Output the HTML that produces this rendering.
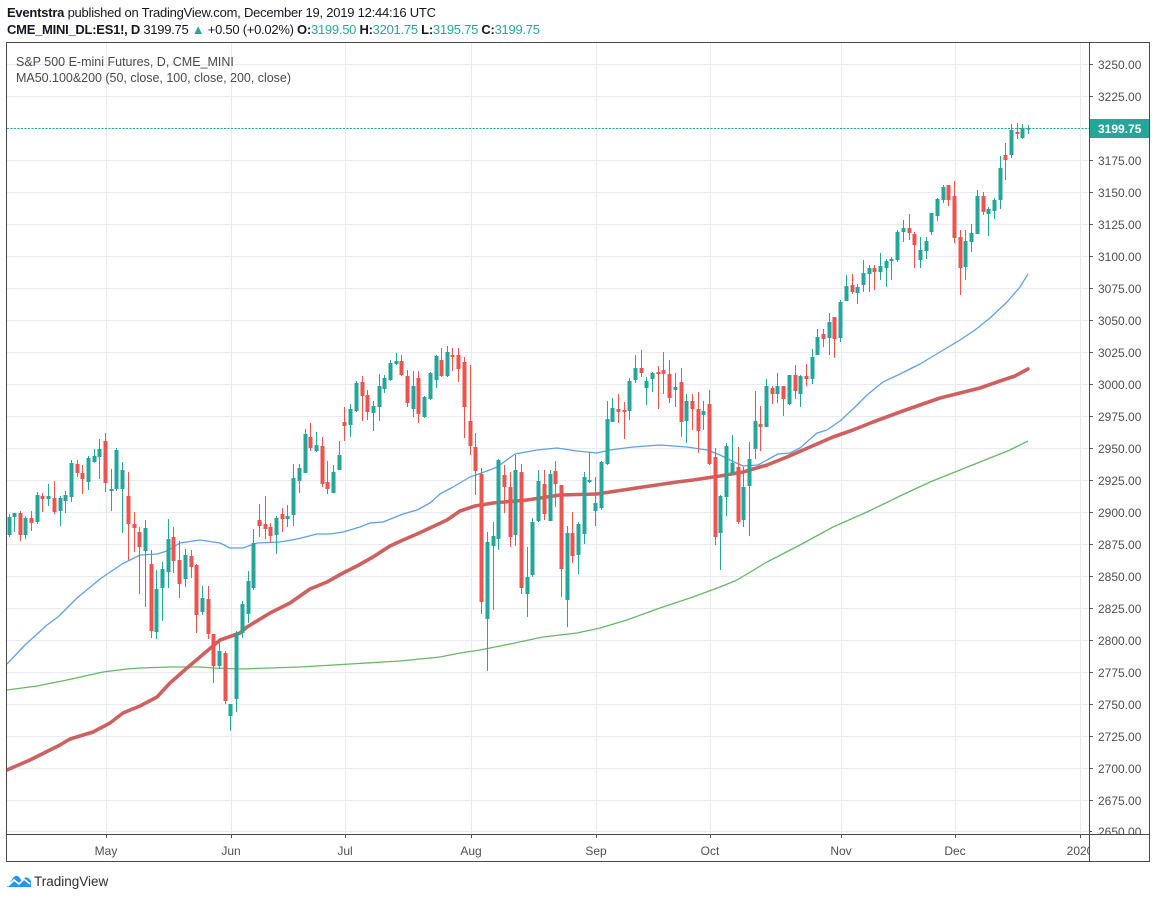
<!DOCTYPE html>
<html><head><meta charset="utf-8"><style>
html,body{margin:0;padding:0;background:#fff;}
svg{display:block;}
text{font-family:"Liberation Sans",Arial,sans-serif;}
</style></head><body>
<svg width="1156" height="899" viewBox="0 0 1156 899" xmlns="http://www.w3.org/2000/svg">
<defs>
<clipPath id="plot"><rect x="7" y="42" width="1082" height="792"/></clipPath>
<clipPath id="taxis"><rect x="7" y="835" width="1082" height="27"/></clipPath>
</defs>
<rect width="1156" height="899" fill="#fff"/>
<!-- header -->
<text x="7" y="17" font-size="13" fill="#131722" textLength="429" lengthAdjust="spacing"><tspan font-weight="bold">Eventstra</tspan> published on TradingView.com, December 19, 2019 12:44:16 UTC</text>
<text x="7" y="34" font-size="13" fill="#131722" textLength="533" lengthAdjust="spacing"><tspan font-weight="bold">CME_MINI_DL:ES1!, D</tspan> 3199.75 <tspan fill="#26a69a">▲</tspan> +0.50 (+0.02%) <tspan font-weight="bold">O:</tspan><tspan fill="#26a69a">3199.50</tspan> <tspan font-weight="bold">H:</tspan><tspan fill="#26a69a">3201.75</tspan> <tspan font-weight="bold">L:</tspan><tspan fill="#26a69a">3195.75</tspan> <tspan font-weight="bold">C:</tspan><tspan fill="#26a69a">3199.75</tspan></text>

<!-- grid -->
<g stroke="#e6ecf1" stroke-width="1">
<path d="M7 64.5H1089M7 96.5H1089M7 128.5H1089M7 160.5H1089M7 192.5H1089M7 224.5H1089M7 256.5H1089M7 288.5H1089M7 320.5H1089M7 352.5H1089M7 384.5H1089M7 416.5H1089M7 448.5H1089M7 480.5H1089M7 512.5H1089M7 544.5H1089M7 576.5H1089M7 608.5H1089M7 640.5H1089M7 672.5H1089M7 704.5H1089M7 736.5H1089M7 768.5H1089M7 800.5H1089M7 831.5H1089"/>
<path d="M106.5 42V834M231.5 42V834M345.5 42V834M471.5 42V834M596.5 42V834M710.5 42V834M841.5 42V834M955.5 42V834M1080.5 42V834"/>
</g>

<g clip-path="url(#plot)">
<!-- moving averages -->
<polyline fill="none" stroke="#5fa0e4" stroke-width="1.3" stroke-linejoin="round" points="7,664 25,645 47,625 58,617 77,598 100,579 122,564 140,555 157,554 167,551 180,543 200,540 220,543 230,548 243,548 257,543 280,542 297,539 317,534 330,534 343,532 360,527 370,523 383,522 403,514 417,510 430,503 440,494 453,487 470,477 487,471 497,467 515,454 537,450 557,448 577,451 597,453 610,450 633,447 660,445 687,447 707,450 720,455 730,460 743,466 758,465 778,454 790,453 800,448 817,433 827,430 840,421 853,409 867,395 883,382 900,374 920,364 940,352 960,340 975,330 990,318 1007,302 1020,287 1028,274"/>
<polyline fill="none" stroke="#66b866" stroke-width="1.3" stroke-linejoin="round" points="7,690 37,686 67,680 103,672 127,669 140,668 170,667 200,667 213,668 240,669 300,667 350,664 400,661 440,657 460,653 480,650 510,644 543,637 577,633 600,628 627,620 660,608 693,597 720,587 737,580 767,562 800,545 833,527 867,512 900,496 930,482 960,470 990,458 1010,450 1028,441"/>
<polyline fill="none" stroke="#d0605e" stroke-width="3.6" stroke-linejoin="round" stroke-linecap="round" points="7,770 30,760 60,745 70,739 93,732 110,723 123,713 140,706 157,697 170,683 187,668 200,657 220,640 240,633 247,627 270,613 290,603 310,589 327,582 343,573 357,566 373,557 390,546 403,540 417,534 430,528 447,520 460,511 475,506 493,503 527,500 560,495 597,494 610,492 643,487 677,482 693,480 720,476 743,472 767,465 787,457 810,447 833,437 853,430 873,422 900,412 920,405 940,398 960,393 980,388 1000,381 1015,376 1028,369"/>

<!-- current price line -->
<line x1="7" y1="128.5" x2="1089" y2="128.5" stroke="#26a69a" stroke-width="1" stroke-dasharray="2 1.5"/>

<!-- green wicks -->
<path fill="none" stroke="#26a69a" stroke-width="1" d="M9.5 514V537M14.5 513V532M25.5 516V539M37.5 492V524M48.5 484V506M60.5 496V526M65.5 491V513M71.5 460V502M88.5 456V490M94.5 449V463M99.5 439V479M111.5 469V511M116.5 448V491M122.5 462V533M145.5 520V607M156.5 570V639M162.5 562V621M168.5 519V588M185.5 549V587M202.5 586V615M219.5 640V669M230.5 704V731M236.5 631V712M242.5 601V638M248.5 571V623M253.5 529V590M276.5 516V554M287.5 505V527M293.5 464V526M299.5 464V493M305.5 429V473M316.5 432V452M333.5 465V493M339.5 441V470M350.5 404V437M356.5 381V412M373.5 401V431M379.5 374V421M384.5 375V393M390.5 360V381M396.5 353V365M413.5 371V417M424.5 396V418M430.5 372V400M436.5 355V388M447.5 346V377M487.5 532V671M493.5 522V610M498.5 459V550M515.5 455V546M527.5 547V617M532.5 518V577M538.5 470V522M550.5 470V521M567.5 526V627M578.5 522V574M584.5 472V544M589.5 452V483M595.5 477V526M601.5 461V510M607.5 401V465M612.5 398V422M629.5 378V420M635.5 355V383M646.5 377V405M652.5 372V392M675.5 373V407M686.5 394V443M703.5 401V430M720.5 495V570M726.5 443V516M732.5 435V475M743.5 467V527M749.5 442V536M755.5 391V459M766.5 379V427M777.5 373V403M789.5 375V405M800.5 375V407M812.5 349V384M817.5 329V355M829.5 313V355M840.5 300V342M846.5 275V301M857.5 284V304M863.5 260V292M869.5 265V292M880.5 253V280M886.5 259V287M891.5 257V280M897.5 230V262M903.5 220V242M920.5 237V268M926.5 237V259M931.5 213V235M937.5 198V221M943.5 185V203M965.5 230V280M971.5 224V252M977.5 190V234M988.5 207V236M994.5 198V219M1000.5 156V209M1011.5 124V158M1022.5 124V139M1028.5 125V134"/>
<!-- red wicks -->
<path fill="none" stroke="#ef5350" stroke-width="1" d="M20.5 511V541M31.5 511V531M42.5 493V512M54.5 481V514M77.5 460V477M82.5 465V494M105.5 433V492M128.5 472V560M134.5 512V552M139.5 527V594M151.5 550V638M173.5 527V573M179.5 541V598M191.5 550V578M196.5 564V633M208.5 586V639M213.5 634V683M225.5 651V704M259.5 504V537M265.5 496V539M270.5 523V543M282.5 508V532M310.5 423V451M322.5 437V487M327.5 461V494M344.5 407V441M362.5 376V421M367.5 390V420M401.5 355V376M407.5 370V407M418.5 371V423M441.5 348V377M452.5 348V371M458.5 348V382M464.5 357V438M470.5 365V455M475.5 433V495M481.5 468V614M504.5 465V513M510.5 472V547M521.5 464V594M544.5 470V520M555.5 461V507M561.5 485V597M572.5 512V563M618.5 394V423M624.5 402V439M641.5 350V377M658.5 366V409M663.5 352V394M669.5 360V403M681.5 368V437M692.5 394V430M698.5 392V453M709.5 390V465M715.5 448V545M738.5 447V524M760.5 406V451M772.5 386V404M783.5 386V416M795.5 365V399M806.5 364V386M823.5 329V347M834.5 317V358M852.5 274V294M874.5 265V290M909.5 214V240M914.5 232V268M948.5 185V206M954.5 181V243M960.5 230V295M983.5 192V215M1005.5 143V180M1017.5 123V139"/>
<!-- green bodies -->
<path fill="#26a69a" d="M7.5 517h4v18h-4zM12.5 513h4v4h-4zM23.5 518h4v17h-4zM35.5 495h4v27h-4zM46.5 496h4v3h-4zM58.5 498h4v13h-4zM63.5 495h4v6h-4zM69.5 463h4v34h-4zM86.5 458h4v24h-4zM92.5 456h4v6h-4zM97.5 449h4v8h-4zM109.5 489h4v2h-4zM114.5 450h4v39h-4zM120.5 470h4v19h-4zM143.5 528h4v23h-4zM154.5 589h4v43h-4zM160.5 569h4v19h-4zM166.5 539h4v33h-4zM183.5 555h4v24h-4zM200.5 598h4v14h-4zM217.5 651h4v15h-4zM228.5 704h4v12h-4zM234.5 633h4v66h-4zM240.5 604h4v29h-4zM246.5 581h4v33h-4zM251.5 543h4v45h-4zM274.5 518h4v17h-4zM285.5 516h4v3h-4zM291.5 478h4v37h-4zM297.5 468h4v13h-4zM303.5 434h4v39h-4zM314.5 445h4v6h-4zM331.5 472h4v21h-4zM337.5 455h4v15h-4zM348.5 409h4v16h-4zM354.5 383h4v28h-4zM371.5 406h4v7h-4zM377.5 386h4v21h-4zM382.5 378h4v11h-4zM388.5 363h4v17h-4zM394.5 361h4v3h-4zM411.5 386h4v23h-4zM422.5 397h4v20h-4zM428.5 373h4v26h-4zM434.5 356h4v24h-4zM445.5 352h4v24h-4zM485.5 542h4v77h-4zM491.5 536h4v10h-4zM496.5 460h4v79h-4zM513.5 470h4v65h-4zM525.5 577h4v17h-4zM530.5 522h4v53h-4zM536.5 481h4v40h-4zM548.5 474h4v47h-4zM565.5 533h4v67h-4zM576.5 524h4v31h-4zM582.5 477h4v57h-4zM587.5 480h4v2h-4zM593.5 503h4v8h-4zM599.5 462h4v46h-4zM605.5 419h4v45h-4zM610.5 408h4v14h-4zM627.5 381h4v30h-4zM633.5 368h4v12h-4zM644.5 381h4v7h-4zM650.5 373h4v6h-4zM673.5 387h4v3h-4zM684.5 401h4v20h-4zM701.5 411h4v4h-4zM718.5 496h4v37h-4zM724.5 446h4v51h-4zM730.5 463h4v10h-4zM741.5 487h4v33h-4zM747.5 459h4v27h-4zM753.5 421h4v28h-4zM764.5 386h4v41h-4zM775.5 386h4v8h-4zM787.5 375h4v29h-4zM798.5 376h4v18h-4zM810.5 357h4v22h-4zM815.5 337h4v18h-4zM827.5 322h4v16h-4zM838.5 302h4v36h-4zM844.5 286h4v15h-4zM855.5 287h4v6h-4zM861.5 273h4v12h-4zM867.5 268h4v6h-4zM878.5 266h4v6h-4zM884.5 261h4v7h-4zM889.5 259h4v2h-4zM895.5 232h4v28h-4zM901.5 228h4v4h-4zM918.5 250h4v10h-4zM924.5 241h4v10h-4zM929.5 213h4v19h-4zM935.5 199h4v17h-4zM941.5 187h4v13h-4zM963.5 241h4v26h-4zM969.5 233h4v9h-4zM975.5 196h4v38h-4zM986.5 209h4v5h-4zM992.5 200h4v11h-4zM998.5 168h4v32h-4zM1009.5 130h4v25h-4zM1020.5 128h4v10h-4zM1026.5 128h4v1.5h-4z"/>
<!-- red bodies -->
<path fill="#ef5350" d="M18.5 513h4v22h-4zM29.5 518h4v5h-4zM40.5 496h4v3h-4zM52.5 498h4v14h-4zM75.5 464h4v9h-4zM80.5 473h4v6h-4zM103.5 441h4v42h-4zM126.5 496h4v28h-4zM132.5 524h4v4h-4zM137.5 532h4v15h-4zM149.5 564h4v67h-4zM171.5 537h4v24h-4zM177.5 560h4v24h-4zM189.5 556h4v11h-4zM194.5 565h4v50h-4zM206.5 599h4v35h-4zM211.5 634h4v32h-4zM223.5 653h4v48h-4zM257.5 520h4v6h-4zM263.5 524h4v5h-4zM268.5 527h4v9h-4zM280.5 514h4v5h-4zM308.5 437h4v11h-4zM320.5 446h4v38h-4zM325.5 482h4v7h-4zM342.5 422h4v4h-4zM360.5 382h4v14h-4zM365.5 395h4v17h-4zM399.5 361h4v14h-4zM405.5 376h4v27h-4zM416.5 378h4v36h-4zM439.5 360h4v16h-4zM450.5 355h4v2h-4zM456.5 355h4v14h-4zM462.5 362h4v45h-4zM468.5 421h4v25h-4zM473.5 447h4v24h-4zM479.5 474h4v128h-4zM502.5 475h4v12h-4zM508.5 487h4v50h-4zM519.5 472h4v116h-4zM542.5 484h4v30h-4zM553.5 471h4v13h-4zM559.5 485h4v84h-4zM570.5 533h4v23h-4zM616.5 409h4v3h-4zM622.5 410h4v2h-4zM639.5 368h4v5h-4zM656.5 372h4v2h-4zM661.5 370h4v4h-4zM667.5 374h4v24h-4zM679.5 382h4v40h-4zM690.5 401h4v8h-4zM696.5 409h4v22h-4zM707.5 404h4v60h-4zM713.5 457h4v80h-4zM736.5 467h4v55h-4zM758.5 424h4v3h-4zM770.5 388h4v6h-4zM781.5 386h4v13h-4zM793.5 375h4v16h-4zM804.5 376h4v3h-4zM821.5 334h4v5h-4zM832.5 317h4v22h-4zM850.5 285h4v7h-4zM872.5 268h4v4h-4zM907.5 228h4v5h-4zM912.5 234h4v11h-4zM946.5 185h4v15h-4zM952.5 196h4v42h-4zM958.5 237h4v31h-4zM981.5 196h4v16h-4zM1003.5 155h4v5h-4zM1015.5 132h4v2h-4z"/>
</g>

<!-- legend -->
<text x="16" y="66" font-size="12.5" fill="#4a4a4a">S&amp;P 500 E-mini Futures, D, CME_MINI</text>
<text x="16" y="82" font-size="12.5" fill="#4a4a4a" textLength="275" lengthAdjust="spacing">MA50.100&amp;200 (50, close, 100, close, 200, close)</text>

<!-- price axis -->
<g stroke="#555" stroke-width="1">
<path d="M1089 64.5h4M1089 96.5h4M1089 160.5h4M1089 192.5h4M1089 224.5h4M1089 256.5h4M1089 288.5h4M1089 320.5h4M1089 352.5h4M1089 384.5h4M1089 416.5h4M1089 448.5h4M1089 480.5h4M1089 512.5h4M1089 544.5h4M1089 576.5h4M1089 608.5h4M1089 640.5h4M1089 672.5h4M1089 704.5h4M1089 736.5h4M1089 768.5h4M1089 800.5h4M1089 831.5h3"/>
</g>
<g font-size="12" fill="#4f4f4f">
<text x="1098" y="69">3250.00</text>
<text x="1098" y="101">3225.00</text>
<text x="1098" y="165">3175.00</text>
<text x="1098" y="197">3150.00</text>
<text x="1098" y="229">3125.00</text>
<text x="1098" y="261">3100.00</text>
<text x="1098" y="293">3075.00</text>
<text x="1098" y="325">3050.00</text>
<text x="1098" y="357">3025.00</text>
<text x="1098" y="389">3000.00</text>
<text x="1098" y="421">2975.00</text>
<text x="1098" y="453">2950.00</text>
<text x="1098" y="485">2925.00</text>
<text x="1098" y="517">2900.00</text>
<text x="1098" y="549">2875.00</text>
<text x="1098" y="581">2850.00</text>
<text x="1098" y="613">2825.00</text>
<text x="1098" y="645">2800.00</text>
<text x="1098" y="677">2775.00</text>
<text x="1098" y="709">2750.00</text>
<text x="1098" y="741">2725.00</text>
<text x="1098" y="773">2700.00</text>
<text x="1098" y="805">2675.00</text>
<text x="1098" y="836">2650.00</text>
</g>
<rect x="1089" y="119" width="60" height="19" fill="#26a69a"/>
<text x="1098" y="133" font-size="12" font-weight="bold" fill="#fff">3199.75</text>

<!-- time axis -->
<rect x="7" y="835" width="1142" height="27" fill="#fff"/>
<g stroke="#555" stroke-width="1">
<path d="M106.5 834v4M231.5 834v4M345.5 834v4M471.5 834v4M596.5 834v4M710.5 834v4M841.5 834v4M955.5 834v4M1080.5 834v4"/>
</g>
<g font-size="12" fill="#4f4f4f" text-anchor="middle" clip-path="url(#taxis)">
<text x="106" y="855">May</text>
<text x="231" y="855">Jun</text>
<text x="345" y="855">Jul</text>
<text x="471" y="855">Aug</text>
<text x="596" y="855">Sep</text>
<text x="710" y="855">Oct</text>
<text x="841" y="855">Nov</text>
<text x="955" y="855">Dec</text>
<text x="1080" y="855">2020</text>
</g>

<!-- frame -->
<g stroke="#4a4a4a" stroke-width="1" fill="none">
<rect x="6.5" y="42.5" width="1143" height="819"/>
<path d="M1089.5 42.5V862M6.5 834.5H1149.5"/>
</g>

<!-- TradingView logo -->
<g transform="translate(7,873)">
<path d="M0 14 L6 5 Q9 1 12 4 L15 8 Q17 3 21 5 Q25 7 24 12 L24 14 Z" fill="#2196f3"/>
<path d="M1 13 L7 7 L12 11 L17 6 L23 11" fill="none" stroke="#fff" stroke-width="1.6"/>
</g>
<text x="34" y="886" font-size="13.5" fill="#2a2e39">TradingView</text>
</svg>
</body></html>
